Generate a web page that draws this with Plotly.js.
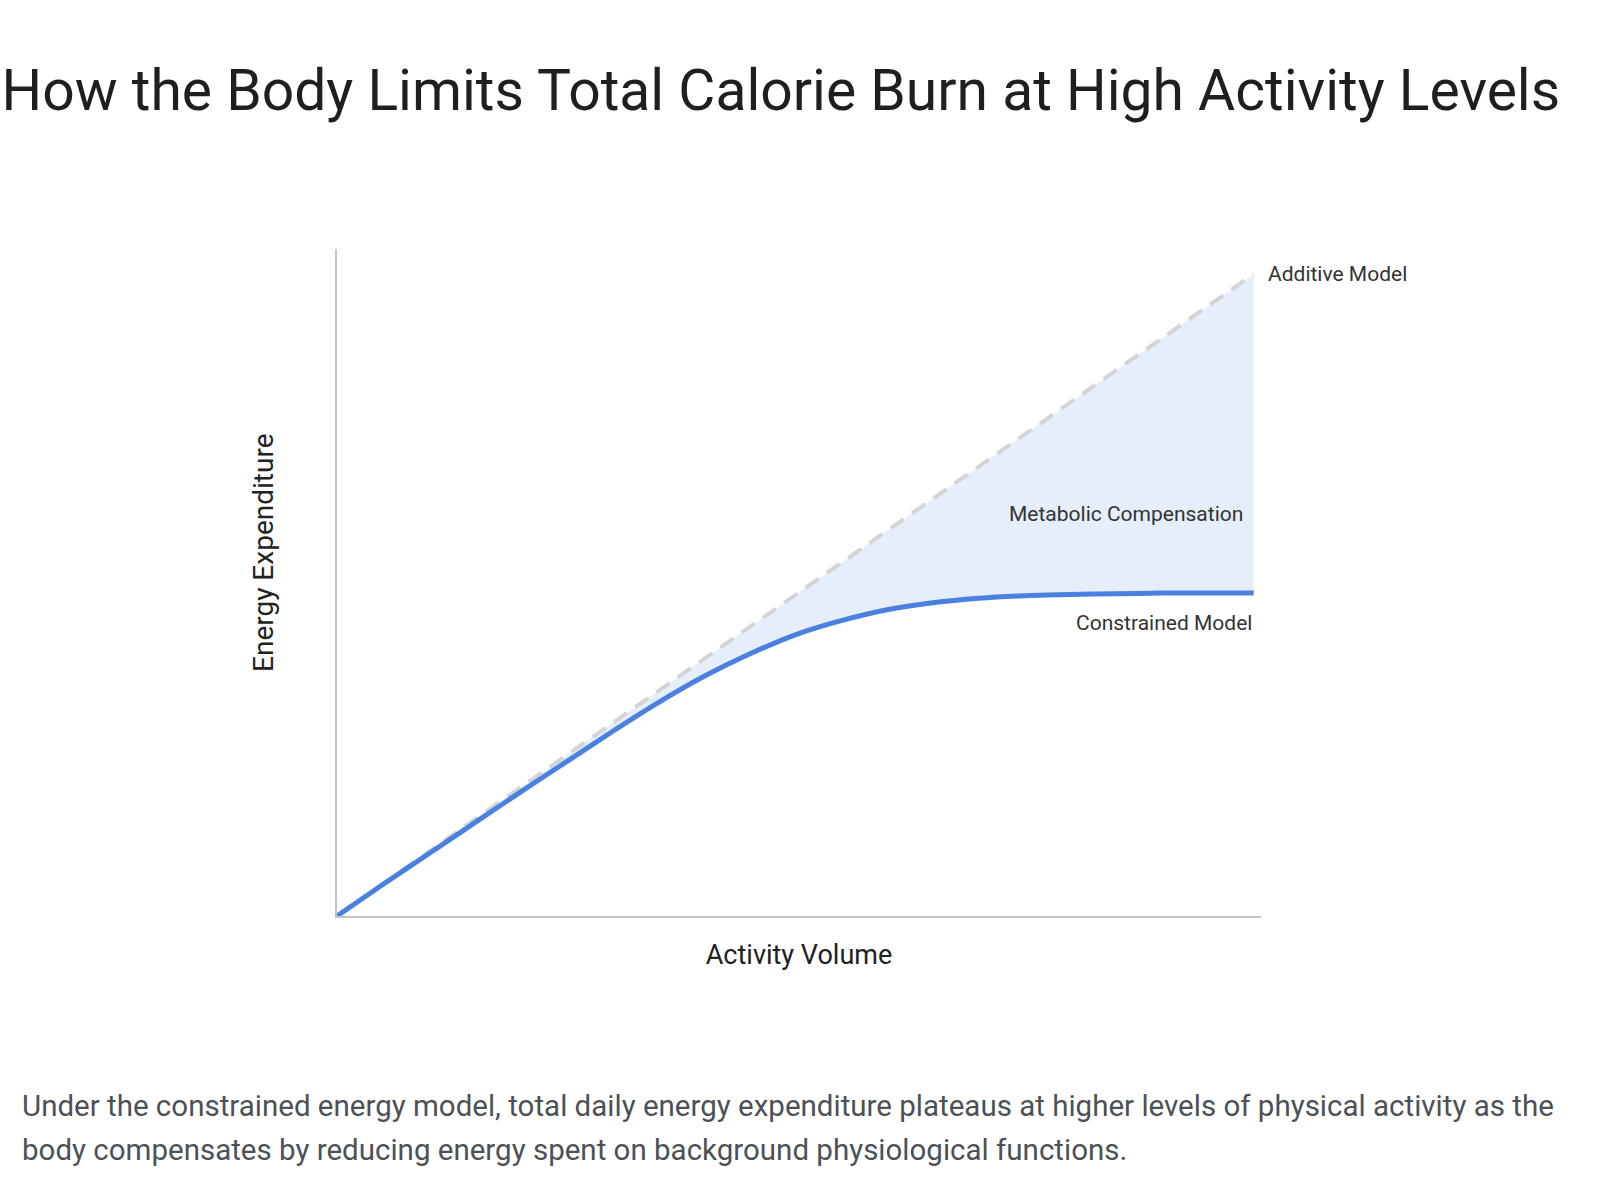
<!DOCTYPE html>
<html>
<head>
<meta charset="utf-8">
<script src="https://cdn.plot.ly/plotly-3.0.1.min.js"></script>
<style>
  html, body { margin: 0; padding: 0; background: #ffffff; }
  #chart { width: 1600px; height: 1200px; }
</style>
</head>
<body>
<div id="chart"></div>
<script>
// Activity volume (arbitrary units) and the two energy-expenditure models
const activity    = [0, 0.5, 1, 1.5, 2, 2.5, 3, 3.5, 4, 4.5, 5, 5.5, 6, 6.5, 7, 7.5, 8, 8.5, 9, 9.5, 10];
const additive    = [0, 0.5, 1, 1.5, 2, 2.5, 3, 3.5, 4, 4.5, 5, 5.5, 6, 6.5, 7, 7.5, 8, 8.5, 9, 9.5, 10];
const constrained = [0, 0.49, 0.97, 1.45, 1.93, 2.40, 2.87, 3.32, 3.73, 4.08, 4.38, 4.60, 4.77, 4.88, 4.95, 4.99, 5.01, 5.02, 5.03, 5.03, 5.03];

// Text drawn on the figure
const titleText   = 'How the Body Limits Total Calorie Burn at High Activity Levels';
const xTitle      = 'Activity Volume';
const yTitle      = 'Energy Expenditure';
const seriesNames = ['Additive Model', 'Constrained Model'];
const gapLabel    = 'Metabolic Compensation';
const captionLines = [
  'Under the constrained energy model, total daily energy expenditure plateaus at higher levels of physical activity as the',
  'body compensates by reducing energy spent on background physiological functions.'
];

const FONT = 'Roboto, "Open Sans", sans-serif';
const BLUE = '#4a80e0';
const last = activity.length - 1;

// plot-area edges in pixels, used to place text outside the axes
const PLOT = { left: 337, right: 1261, top: 249, bottom: 916 };
const px = v => (v - PLOT.left) / (PLOT.right - PLOT.left);
const py = v => (PLOT.bottom - v) / (PLOT.bottom - PLOT.top);

const traces = [
  // lower edge of the shaded gap (no visible line)
  {
    x: activity, y: constrained, type: 'scatter', mode: 'lines',
    line: { width: 0, color: BLUE, shape: 'spline', smoothing: 0.6 },
    hoverinfo: 'skip', showlegend: false
  },
  // additive model: dashed line, gap filled down to the constrained curve
  {
    x: activity, y: additive, type: 'scatter', mode: 'lines', name: seriesNames[0],
    line: { color: '#d4d4d4', width: 4, dash: '16px,10px' },
    fill: 'tonexty', fillcolor: 'rgba(226,235,250,0.85)',
    hoverinfo: 'skip', showlegend: false
  },
  // constrained model
  {
    x: activity, y: constrained, type: 'scatter', mode: 'lines', name: seriesNames[1],
    line: { color: BLUE, width: 5, shape: 'spline', smoothing: 0.6 },
    hoverinfo: 'skip', showlegend: false
  }
];

const layout = {
  width: 1600, height: 1200,
  paper_bgcolor: '#ffffff', plot_bgcolor: '#ffffff',
  margin: { l: PLOT.left, r: 1600 - PLOT.right, t: PLOT.top, b: 1200 - PLOT.bottom, pad: 0 },
  font: { family: FONT, color: '#222222' },
  title: {
    text: titleText,
    font: { family: FONT, size: 57, color: '#1f1f1f' },
    xref: 'container', x: 0.001, xanchor: 'left',
    yref: 'container', y: 1 - 90 / 1200, yanchor: 'middle'
  },
  xaxis: {
    range: [0, 10.08], showline: true, linecolor: '#c4c4c4', linewidth: 2,
    showgrid: false, zeroline: false, showticklabels: false, ticks: '',
    fixedrange: true, automargin: true,
    title: { text: xTitle, font: { family: FONT, size: 27, color: '#222222' }, standoff: 28 }
  },
  yaxis: {
    range: [0, 10.39], showline: true, linecolor: '#c4c4c4', linewidth: 2,
    showgrid: false, zeroline: false, showticklabels: false, ticks: '',
    fixedrange: true
  },
  annotations: [
    {
      // vertical axis title, set a little above the axis midpoint
      x: px(263), y: py(553), xref: 'paper', yref: 'paper',
      text: yTitle, textangle: -90, showarrow: false, xanchor: 'center', yanchor: 'middle',
      font: { family: FONT, size: 28, color: '#222222' }
    },
    {
      x: activity[last], y: additive[last], xref: 'x', yref: 'y',
      text: seriesNames[0], showarrow: false, xanchor: 'left', yanchor: 'middle', xshift: 12,
      font: { family: FONT, size: 21, color: '#333333' }
    },
    {
      x: activity[last], y: constrained[last], xref: 'x', yref: 'y',
      text: seriesNames[1], showarrow: false, xanchor: 'right', yanchor: 'middle', yshift: -30,
      font: { family: FONT, size: 21, color: '#333333' }
    },
    {
      x: 9.9, y: 6.26, xref: 'x', yref: 'y',
      text: gapLabel, showarrow: false, xanchor: 'right', yanchor: 'middle',
      font: { family: FONT, size: 21, color: '#333333' }
    },
    {
      x: px(20), y: py(1106), xref: 'paper', yref: 'paper',
      text: captionLines[0], showarrow: false, xanchor: 'left', yanchor: 'middle', align: 'left',
      font: { family: FONT, size: 29.5, color: '#4d5156' }
    },
    {
      x: px(20), y: py(1150), xref: 'paper', yref: 'paper',
      text: captionLines[1], showarrow: false, xanchor: 'left', yanchor: 'middle', align: 'left',
      font: { family: FONT, size: 29.5, color: '#4d5156' }
    }
  ]
};

Plotly.newPlot('chart', traces, layout, { displayModeBar: false, staticPlot: true });
</script>
</body>
</html>
